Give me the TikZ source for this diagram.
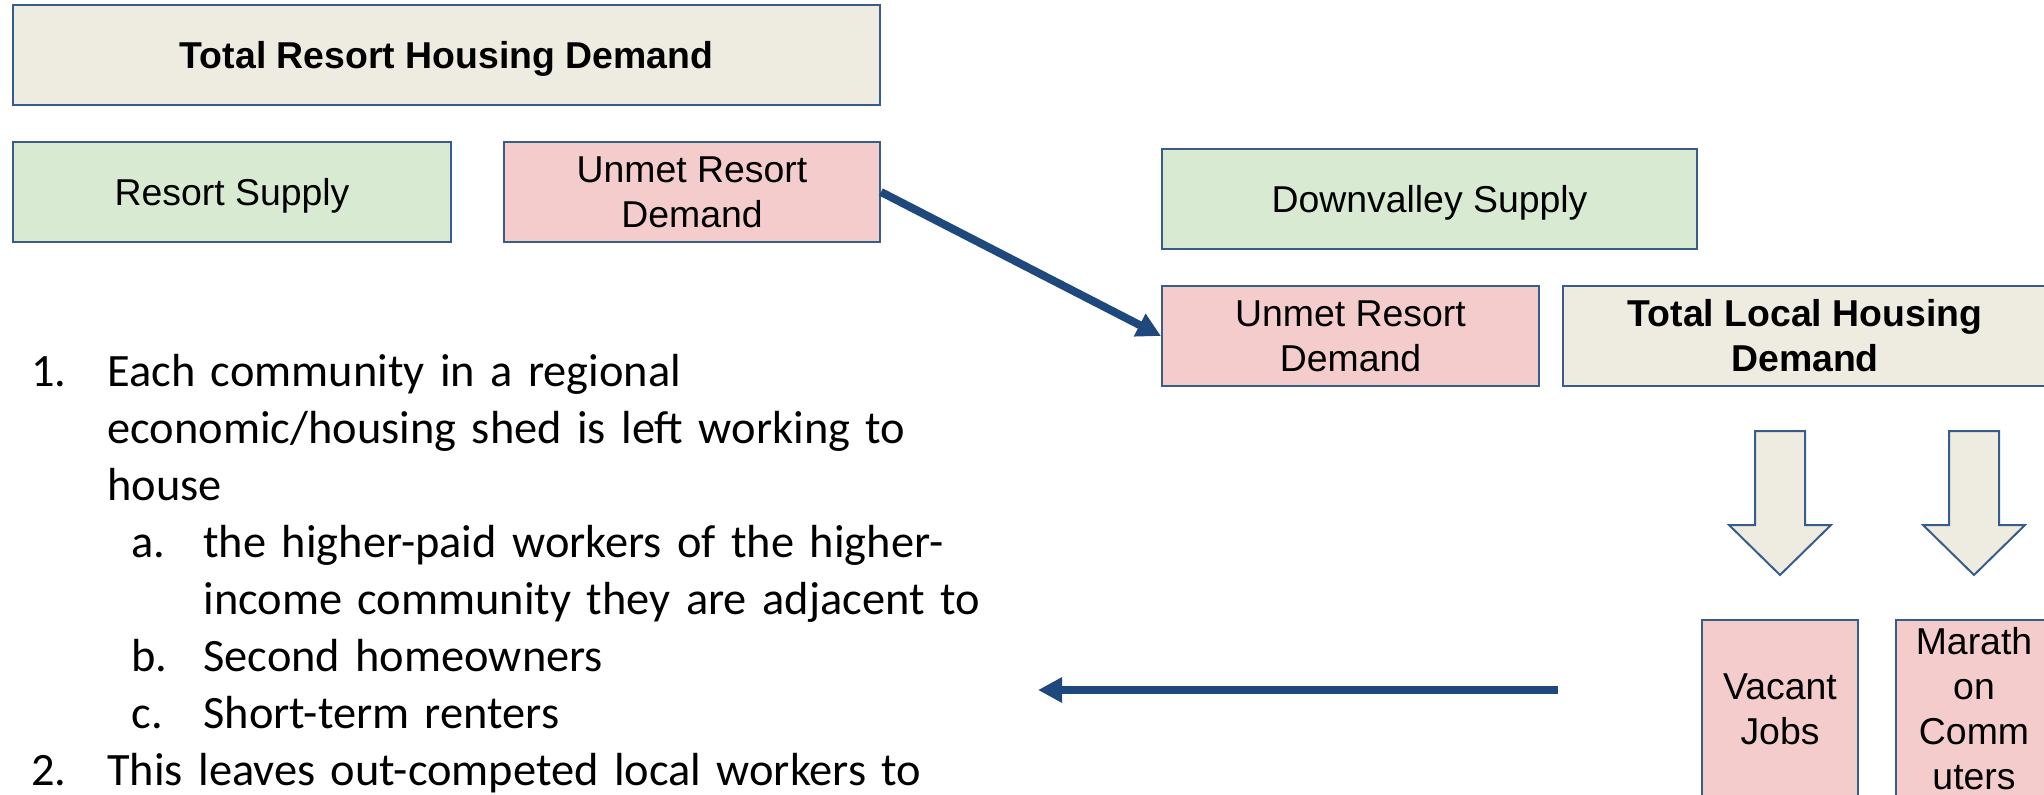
\documentclass[tikz,border=0pt]{standalone}
\usepackage{fontspec}
\usepackage{xcolor}
\setmainfont{Liberation Sans}
\newfontfamily\listfamily{Carlito}
\usetikzlibrary{arrows.meta,positioning,calc}
\definecolor{boxblue}{RGB}{56,93,138}
\definecolor{arrowblue}{RGB}{31,73,125}
\definecolor{tanfill}{RGB}{238,236,225}
\definecolor{greenfill}{RGB}{217,234,211}
\definecolor{pinkfill}{RGB}{244,204,204}
\newcommand{\boxfont}{\fontsize{18.7}{22.5}\selectfont}
\newcommand{\listfont}{\listfamily\fontsize{23.2}{28.5}\selectfont}

\begin{document}
\begin{tikzpicture}[x=0.5pt,y=-0.5pt]
    % Define node styles
    \tikzstyle{tanbox} = [rectangle, draw=boxblue, line width=1pt, fill=tanfill, inner sep=0pt, align=center, font=\boxfont\bfseries, minimum height=50pt]
    \tikzstyle{greenbox} = [rectangle, draw=boxblue, line width=1pt, fill=greenfill, inner sep=0pt, align=center, font=\boxfont, minimum height=50pt]
    \tikzstyle{pinkbox} = [rectangle, draw=boxblue, line width=1pt, fill=pinkfill, inner sep=0pt, align=center, font=\boxfont, minimum height=50pt]
    \tikzstyle{oneline} = [text depth=0pt]
    \tikzstyle{blockarrow} = [draw=boxblue, line width=1pt, fill=tanfill, line join=miter]
    \tikzstyle{flowarrow} = [draw=arrowblue, line width=4pt, -{Triangle[length=12pt,width=12pt]}]

    \useasboundingbox (0,0) rectangle (2044,794);
    \clip (0,0) rectangle (2044,794);

    % Resort side
    \node[tanbox, oneline, minimum width=433.5pt] (resortdemand) at (446.5,55) {Total Resort Housing Demand};
    \node[greenbox, oneline, minimum width=219pt] (resortsupply) at (232,192) {Resort Supply};
    \node[pinkbox, minimum width=188pt] (unmetresort) at (692,192) {Unmet Resort\\Demand};

    % Downvalley side
    \node[greenbox, oneline, minimum width=267.5pt] (downsupply) at (1429.5,199) {Downvalley Supply};
    \node[pinkbox, minimum width=188.5pt] (unmetdown) at (1350.5,336) {Unmet Resort\\Demand};
    \node[tanbox, minimum width=242pt] (localdemand) at (1805,336) {Total Local Housing\\Demand};

    % Block arrows
    \draw[blockarrow] (1755,431) -- (1805,431) -- (1805,525) -- (1831,525) -- (1780,575) -- (1729,525) -- (1755,525) -- cycle;
    \draw[blockarrow] (1949,431) -- (1999,431) -- (1999,525) -- (2025,525) -- (1974,575) -- (1923,525) -- (1949,525) -- cycle;

    % Outcomes
    \node[pinkbox, minimum width=78pt, minimum height=89pt] (vacant) at (1780,709) {Vacant\\Jobs};
    \node[pinkbox, minimum width=78pt, minimum height=89pt] (marathon) at (1974,709) {Marath\\on\\Comm\\uters};

    % List text
    \node[anchor=base west, inner sep=0pt, text width=520pt, align=left, font=\listfont] (points) at (31,386) {%
        \makebox[38pt][l]{1.}Each community in a regional\\
        \hspace*{38pt}economic/housing shed is left working to\\
        \hspace*{38pt}house\\
        \hspace*{50pt}\makebox[36pt][l]{a.}the higher-paid workers of the higher-\\
        \hspace*{86pt}income community they are adjacent to\\
        \hspace*{50pt}\makebox[36pt][l]{b.}Second homeowners\\
        \hspace*{50pt}\makebox[36pt][l]{c.}Short-term renters\\
        \makebox[38pt][l]{2.}This leaves out-competed local workers to};

    % Arrows
    \coordinate (spillstart) at (1558,690);
    \coordinate (spillend) at (1038,690);
    \draw[flowarrow] (unmetresort.east) -- (unmetdown.west);
    \draw[flowarrow] (spillstart) -- (spillend);
\end{tikzpicture}
\end{document}
